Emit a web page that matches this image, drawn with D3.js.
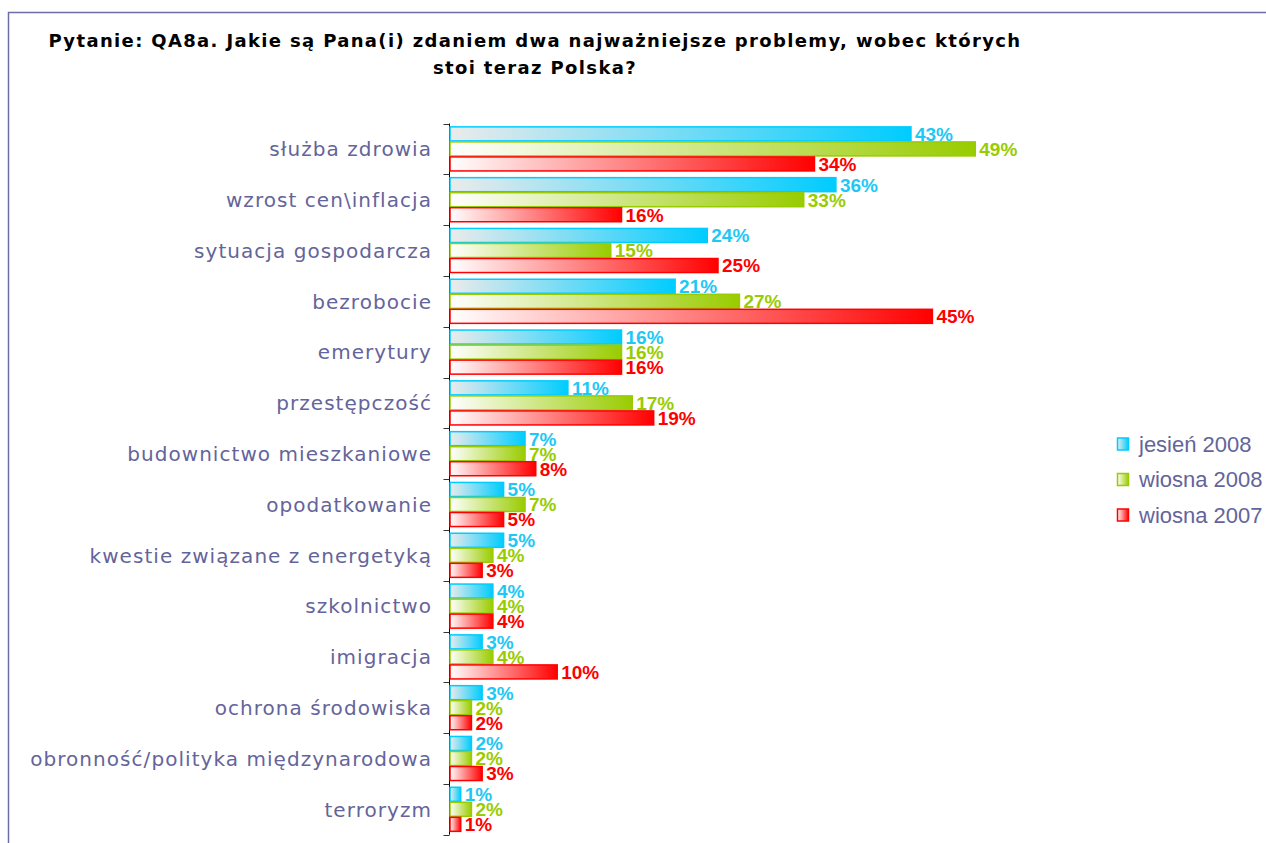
<!DOCTYPE html>
<html>
<head>
<meta charset="utf-8">
<script src="https://cdn.jsdelivr.net/npm/d3@7"></script>
<style>
  body { margin: 0; background: #fff; }
  svg { display: block; }
</style>
</head>
<body>
<div id="chart"></div>
<script>
var widthT = 1266, heightT = 843;

// data
var categories = ["służba zdrowia", "wzrost cen\\inflacja", "sytuacja gospodarcza", "bezrobocie",
  "emerytury", "przestępczość", "budownictwo mieszkaniowe", "opodatkowanie",
  "kwestie związane z energetyką", "szkolnictwo", "imigracja", "ochrona środowiska",
  "obronność/polityka międzynarodowa", "terroryzm"];
var seriesNames = ["jesień 2008", "wiosna 2008", "wiosna 2007"];
var jesien2008 = [43, 36, 24, 21, 16, 11, 7, 5, 5, 4, 3, 3, 2, 1];
var wiosna2008 = [49, 33, 15, 27, 16, 17, 7, 7, 4, 4, 4, 2, 2, 2];
var wiosna2007 = [34, 16, 25, 45, 16, 19, 8, 5, 3, 4, 10, 2, 3, 1];
var titleLines = ["Pytanie: QA8a. Jakie są Pana(i) zdaniem dwa najważniejsze problemy, wobec których",
  "stoi teraz Polska?"];

var seriesValues = [jesien2008, wiosna2008, wiosna2007];
var colors = ["#00ccff", "#99cc00", "#ff0000"];
var startColors = ["#ebebeb", "#ffffff", "#ffffff"];
var textColors = ["#1ec8f5", "#99cc00", "#ff0000"];

var svg = d3.select("#chart").append("svg")
    .attr("width", widthT)
    .attr("height", heightT);

var defs = svg.append("defs");
colors.forEach(function(c, i) {
  var grad = defs.append("linearGradient")
      .attr("id", "grad" + i)
      .attr("x1", "0%").attr("x2", "100%")
      .attr("y1", "0%").attr("y2", "0%");
  grad.append("stop").attr("offset", "0%").attr("stop-color", startColors[i]);
  grad.append("stop").attr("offset", "100%").attr("stop-color", c);
});

// frame
svg.append("path")
    .attr("d", "M8.5," + heightT + "V12.5H" + widthT)
    .attr("fill", "none")
    .attr("stroke", "#6e6ea6")
    .attr("stroke-width", 1.5);

// title
svg.append("g").selectAll("text")
  .data(titleLines)
  .enter().append("text")
    .attr("x", 535)
    .attr("y", function(d, i) { return 47 + i * 27; })
    .attr("text-anchor", "middle")
    .style("font-family", "'DejaVu Sans', Verdana, sans-serif")
    .style("font-weight", "bold")
    .style("font-size", "18px")
    .style("letter-spacing", "1.35px")
    .attr("fill", "#000")
    .text(function(d) { return d; });

var x = d3.scaleLinear().domain([0, 50]).range([450, 986]);
var y = d3.scaleBand().domain(categories).range([123.5, 834.7]);
var ySub = d3.scaleBand().domain([0, 1, 2]).range([0, y.bandwidth()]).paddingOuter(0.19).paddingInner(0);

// axis
var axisG = svg.append("g")
    .attr("transform", "translate(449.5,0)");
axisG.append("line")
    .attr("y1", y.range()[0]).attr("y2", y.range()[1])
    .attr("stroke", "#000");
var tickPos = categories.map(function(c) { return y(c); }).concat([y.range()[1]]);
axisG.selectAll("line.tick")
  .data(tickPos)
  .enter().append("line")
    .attr("class", "tick")
    .attr("x1", -6).attr("x2", 0)
    .attr("y1", function(d) { return Math.round(d) + 0.5; })
    .attr("y2", function(d) { return Math.round(d) + 0.5; })
    .attr("stroke", "#333");

// category labels
svg.append("g").selectAll("text")
  .data(categories)
  .enter().append("text")
    .attr("x", 432)
    .attr("y", function(d) { return y(d) + y.bandwidth() / 2; })
    .attr("dy", "0.36em")
    .attr("text-anchor", "end")
    .style("font-family", "'DejaVu Sans', Verdana, sans-serif")
    .style("font-size", "20px")
    .style("letter-spacing", "1.05px")
    .attr("fill", "#64649a")
    .text(function(d) { return d; });

// bars
seriesValues.forEach(function(vals, si) {
  var g = svg.append("g");
  g.selectAll("rect")
    .data(vals)
    .enter().append("rect")
      .attr("x", x(0))
      .attr("y", function(d, i) { return y(categories[i]) + ySub(si) + 0.5; })
      .attr("width", function(d) { return x(d) - x(0); })
      .attr("height", ySub.bandwidth() - 1)
      .attr("fill", "url(#grad" + si + ")")
      .attr("stroke", colors[si])
      .attr("stroke-width", 1.5);
  g.selectAll("text")
    .data(vals)
    .enter().append("text")
      .attr("x", function(d) { return x(d) + 4; })
      .attr("y", function(d, i) { return y(categories[i]) + ySub(si) + ySub.bandwidth() / 2; })
      .attr("dy", "0.36em")
      .style("font-family", "'Liberation Sans', Arial, sans-serif")
      .style("font-weight", "bold")
      .style("font-size", "19px")
      .attr("fill", textColors[si])
      .text(function(d) { return d + "%"; });
});

// legend
var legend = svg.append("g").selectAll("g")
  .data(seriesNames)
  .enter().append("g")
    .attr("transform", function(d, i) { return "translate(1117," + (444 + i * 35.5) + ")"; });
legend.append("rect")
    .attr("x", 0.5).attr("y", -6)
    .attr("width", 11).attr("height", 12)
    .attr("fill", function(d, i) { return "url(#grad" + i + ")"; })
    .attr("stroke", function(d, i) { return colors[i]; })
    .attr("stroke-width", 1.5);
legend.append("text")
    .attr("x", 22)
    .attr("dy", "0.36em")
    .style("font-family", "'Liberation Sans', Arial, sans-serif")
    .style("font-size", "22px")
    .attr("fill", "#64649a")
    .text(function(d) { return d; });
</script>
</body>
</html>
